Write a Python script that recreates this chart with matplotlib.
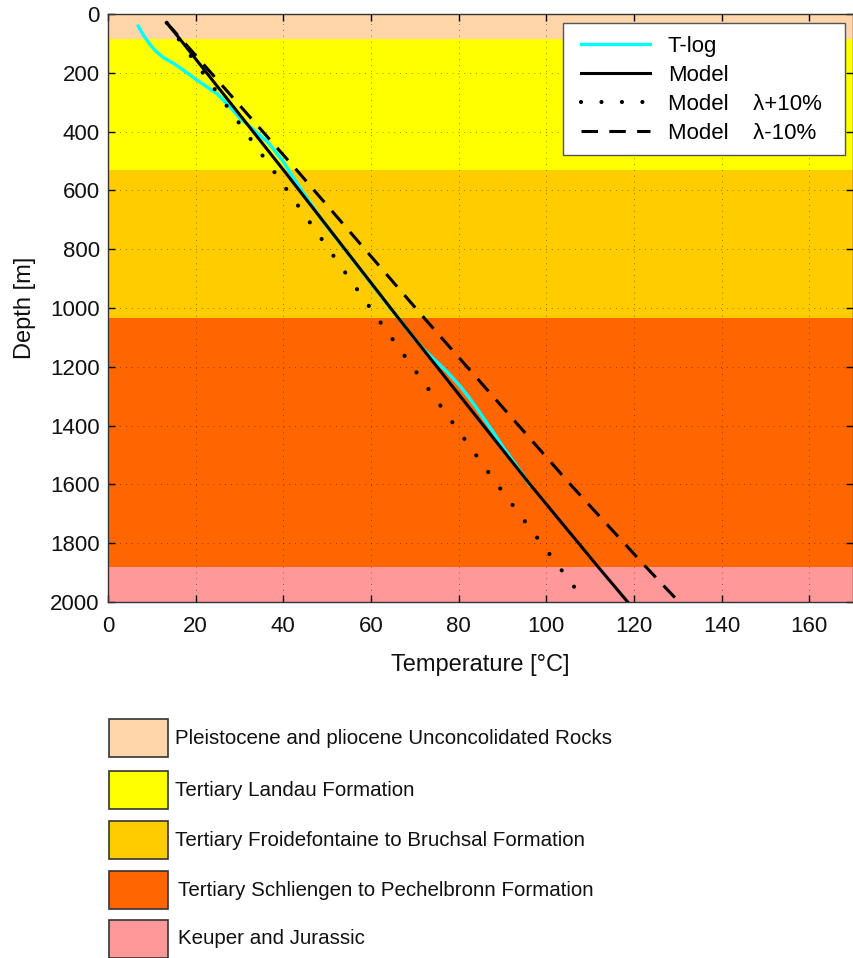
import matplotlib
matplotlib.use("Agg")
import matplotlib.pyplot as plt
from matplotlib.patches import Rectangle

plt.rcParams['font.family'] = ['Liberation Sans', 'DejaVu Sans']

# Geological formations (depth ranges in m)
formation_names = [
    "Pleistocene and pliocene Unconcolidated Rocks",
    "Tertiary Landau Formation",
    "Tertiary Froidefontaine to Bruchsal Formation",
    "Tertiary Schliengen to Pechelbronn Formation",
    "Keuper and Jurassic",
]
formation_top = [0, 85, 530, 1035, 1880]
formation_bottom = [85, 530, 1035, 1880, 2000]
formation_colors = ["#FFD5A9", "#FFFF00", "#FFCC00", "#FF6600", "#FF9999"]

# Measured temperature log
tlog_depth = [41, 70, 100, 125, 148, 170, 195, 224, 270, 315, 355, 383, 438, 500, 585,
              700, 800, 900, 1000, 1048, 1100, 1140, 1180, 1219, 1265, 1299, 1340, 1379,
              1420, 1470, 1530, 1603]
tlog_temp = [6.9, 8.0, 9.4, 10.8, 12.6, 15.2, 17.6, 20.2, 24.8, 27.8, 30.1, 32.4, 36.6,
             39.9, 43.5, 48.8, 54.0, 59.2, 64.4, 67.0, 69.7, 72.0, 74.8, 77.5, 80.3,
             82.1, 84.1, 85.9, 87.8, 90.0, 92.9, 96.3]

# Conductive model and its sensitivity to thermal conductivity
model_depth = [30, 85, 530, 1035, 1600, 1880, 2000]
model_temp = [13.4, 16.4, 40.0, 66.3, 96.3, 111.8, 118.6]
model_plus_temp = [13.4, 16.1, 37.6, 61.5, 88.8, 102.9, 109.0]
model_minus_temp = [13.4, 16.7, 43.0, 72.2, 105.5, 122.7, 130.3]

x_ticks = [0, 20, 40, 60, 80, 100, 120, 140, 160]
y_ticks = [0, 200, 400, 600, 800, 1000, 1200, 1400, 1600, 1800, 2000]

W, H = 854, 958
fig = plt.figure(figsize=(W / 100, H / 100), dpi=100)
ax = fig.add_axes([108 / W, 356 / H, 745 / W, 588 / H])

for top, bot, col in zip(formation_top, formation_bottom, formation_colors):
    ax.axhspan(top, bot, color=col, lw=0, zorder=0)

ax.plot(tlog_temp, tlog_depth, color="#00FFFF", lw=2.4, zorder=3, label="T-log")
ax.plot(model_temp, model_depth, color="black", lw=2.2, zorder=4, label="Model")
ax.plot(model_plus_temp, model_depth, color="black", lw=3.0, ls=(0, (0.01, 4.9)),
        dash_capstyle="round", zorder=4, label="Model    \u03bb+10%")
ax.plot(model_minus_temp, model_depth, color="black", lw=2.2, ls=(0, (5.4, 3.7)),
        zorder=4, label="Model    \u03bb-10%")

ax.set_xlim(0, 170)
ax.set_ylim(2000, 0)
ax.set_xticks(x_ticks)
ax.set_yticks(y_ticks)
ax.tick_params(direction="in", top=True, right=True, labelsize=16, length=5, width=1,
               labelcolor="#111111")
ax.tick_params(axis="x", pad=10)
ax.tick_params(axis="y", pad=6)
ax.grid(True, ls=(0, (1, 6)), color="black", lw=0.6, alpha=0.6)
for s in ax.spines.values():
    s.set_linewidth(1)
    s.set_color("#333333")

ax.set_xlabel("Temperature [\u00b0C]", fontsize=17, labelpad=12, color="#111111")
ax.set_ylabel("Depth [m]", fontsize=17, labelpad=10, color="#111111")

# Legend box drawn separately so its padding can be set freely
ax.add_patch(Rectangle((563 / W, 1 - 155 / H), 282 / W, 132 / H,
                       transform=fig.transFigure, facecolor="white",
                       edgecolor="#555555", lw=1, zorder=5, clip_on=False))
leg = ax.legend(loc="upper left", fontsize=16, frameon=False, handlelength=3.1,
                handletextpad=0.8, borderpad=0, labelspacing=0.36,
                borderaxespad=0, bbox_to_anchor=(581 / W, 1 - 36 / H),
                bbox_transform=fig.transFigure)
leg.set_zorder(6)

# Formation key below the plot
key_y = [719, 771, 821, 871, 920]
key_text_x = [175, 175, 175, 178, 178]
for name, col, y, tx in zip(formation_names, formation_colors, key_y, key_text_x):
    fig.patches.append(Rectangle((109 / W, 1 - (y + 38) / H), 59 / W, 38 / H,
                                 transform=fig.transFigure, facecolor=col,
                                 edgecolor="#333333", lw=1.2))
    fig.text(tx / W, 1 - (y + 19) / H, name, fontsize=14.8, va="center",
             ha="left", color="#111111")

fig.savefig("out.png", dpi=100)
